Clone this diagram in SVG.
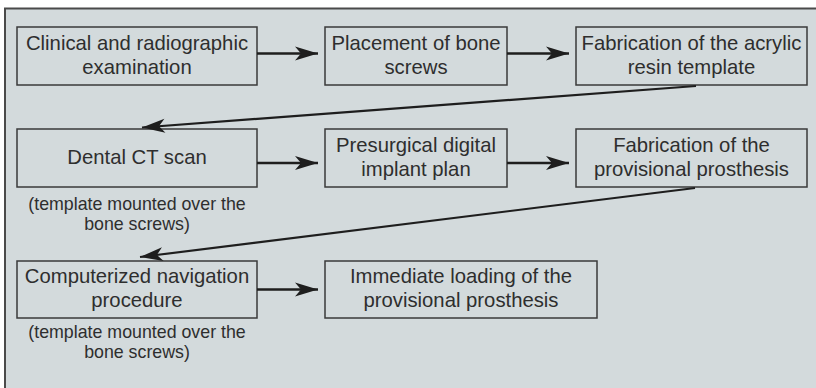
<svg xmlns="http://www.w3.org/2000/svg" width="816" height="388" viewBox="0 0 816 388">
<defs>
<style>
.box{fill:none;stroke:#3a3a3a;stroke-width:1.5}
.t{font-family:"Liberation Sans",Arial,sans-serif;font-size:20.3px;fill:#2e2e2e;text-anchor:middle}
.s{font-family:"Liberation Sans",Arial,sans-serif;font-size:17.8px;fill:#2e2e2e;text-anchor:middle}
.c{fill:none;stroke:#1e1e1e;stroke-width:2.6}
.d{fill:none;stroke:#1e1e1e;stroke-width:2.2}
</style>
<marker id="ah" markerUnits="userSpaceOnUse" viewBox="-24 -8 25 16" refX="0" refY="0" markerWidth="25" markerHeight="16" orient="auto">
<path d="M0,0 L-23,-7 L-17,0 L-23,7 Z" fill="#1e1e1e"/>
</marker>
</defs>
<rect x="5" y="8.5" width="830" height="400" fill="#d3dadc" stroke="#4a4a4a" stroke-width="2"/>
<g id="n1"><rect class="box" x="17" y="27" width="240" height="58"/><text class="t" x="137" y="50">Clinical and radiographic</text><text class="t" x="137" y="74">examination</text></g>
<g id="n2"><rect class="box" x="325" y="27" width="182" height="58"/><text class="t" x="416" y="50">Placement of bone</text><text class="t" x="416" y="74">screws</text></g>
<g id="n3"><rect class="box" x="576" y="27" width="231" height="58"/><text class="t" x="691.5" y="50">Fabrication of the acrylic</text><text class="t" x="691.5" y="74">resin template</text></g>
<g id="n4"><rect class="box" x="17" y="129" width="240" height="58"/><text class="t" x="137" y="164">Dental CT scan</text><text class="s" x="137" y="210">(template mounted over the</text><text class="s" x="137" y="230">bone screws)</text></g>
<g id="n5"><rect class="box" x="325" y="129" width="182" height="58"/><text class="t" x="416" y="152">Presurgical digital</text><text class="t" x="416" y="176">implant plan</text></g>
<g id="n6"><rect class="box" x="576" y="129" width="231" height="58"/><text class="t" x="691.5" y="152">Fabrication of the</text><text class="t" x="691.5" y="176">provisional prosthesis</text></g>
<g id="n7"><rect class="box" x="17" y="261" width="240" height="57"/><text class="t" x="137" y="283">Computerized navigation</text><text class="t" x="137" y="307">procedure</text><text class="s" x="137" y="338">(template mounted over the</text><text class="s" x="137" y="358">bone screws)</text></g>
<g id="n8"><rect class="box" x="325" y="261" width="272" height="57"/><text class="t" x="461" y="283">Immediate loading of the</text><text class="t" x="461" y="307">provisional prosthesis</text></g>
<g id="connectors">
<line class="c" x1="257" y1="53.5" x2="318" y2="53.5" marker-end="url(#ah)"/>
<line class="c" x1="507" y1="53.5" x2="569" y2="53.5" marker-end="url(#ah)"/>
<line class="d" x1="696" y1="86" x2="142" y2="127.5" marker-end="url(#ah)"/>
<line class="c" x1="257" y1="163" x2="318" y2="163" marker-end="url(#ah)"/>
<line class="c" x1="507" y1="163" x2="569" y2="163" marker-end="url(#ah)"/>
<line class="d" x1="695" y1="188" x2="140" y2="257" marker-end="url(#ah)"/>
<line class="c" x1="257" y1="289.5" x2="318" y2="289.5" marker-end="url(#ah)"/>
</g>
</svg>
